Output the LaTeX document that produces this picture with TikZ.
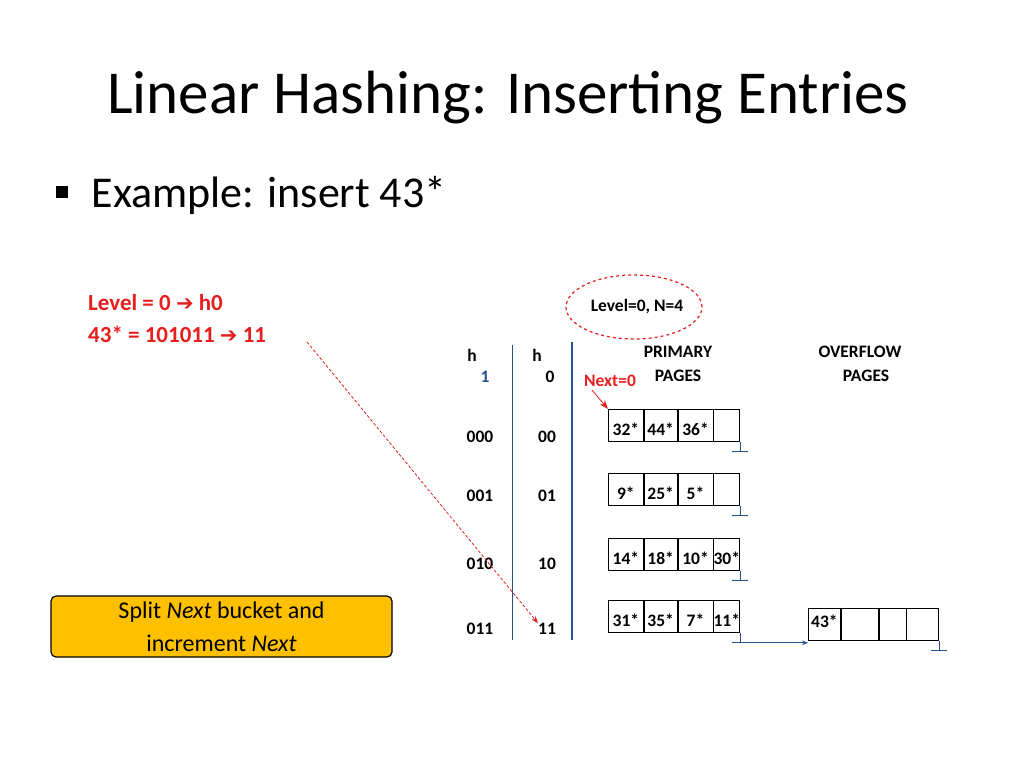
\documentclass[tikz,border=0pt]{standalone}
\usepackage{fontspec}
\setmainfont{Carlito}
\newfontfamily\symfont{DejaVu Sans}
\usetikzlibrary{arrows.meta, positioning}
\definecolor{hred}{RGB}{230,30,30}
\definecolor{hblue}{RGB}{40,80,140}
\definecolor{hyellow}{RGB}{255,192,0}
\tikzset{
  lbl/.style={font=\bfseries\fontsize{17.5}{19}\selectfont, inner sep=0pt},
  cell/.style={draw, thick, minimum width=#1, minimum height=32pt, inner sep=0pt, anchor=north west},
  gnd/.style={hblue, thick},
}
\begin{document}
\begin{tikzpicture}[x=1pt, y=-1pt]
  \useasboundingbox (0,0) rectangle (1024,768);
  \node[font=\fontsize{61}{66}\selectfont] (title) at (508,98) {Linear Hashing: Inserting Entries};
  \node[fill=black, minimum size=12pt, inner sep=0pt] (bul) at (62,192) {};
  \node[font=\fontsize{44}{48}\selectfont, anchor=west] (ex) at (88,195) {Example: insert 43*};

  % hashing of the new entry
  \node[lbl, hred, anchor=west, font=\bfseries\fontsize{23}{25}\selectfont] (lev) at (88,303) {Level = 0 {\symfont\fontsize{21}{24}\selectfont ➔} h0};
  \node[lbl, hred, anchor=west, font=\bfseries\fontsize{23}{25}\selectfont] (bits) at (88,334) {43* = 101011 {\symfont\fontsize{21}{24}\selectfont ➔} 11};

  \node[lbl] (ln) at (637,307) {Level=0, N=4};
  \draw[hred, very thick, dashed] (634,307) ellipse (68pt and 32pt);

  % directory
  \node[lbl] (h1) at (472,355) {h};
  \node[lbl, hblue] (h1s) at (485,377) {1};
  \node[lbl] (h0) at (537,355) {h};
  \node[lbl] (h0s) at (550,377) {0};
  \coordinate (sa) at (512,345); \coordinate (sb) at (512,640);
  \coordinate (ta) at (572,342); \coordinate (tb) at (572,640);
  \draw[hblue, thick] (sa) -- (sb);
  \draw[hblue, line width=2.5pt] (ta) -- (tb);
  \foreach \a/\b/\y [count=\i] in {000/00/437, 001/01/496, 010/10/564, 011/11/629}{
    \node[lbl] (d1-\i) at (480,\y) {\a};
    \node[lbl] (d0-\i) at (547,\y) {\b};
  }
  \node[lbl] (pp1) at (678,352) {PRIMARY};
  \node[lbl] (pp2) at (678,376) {PAGES};
  \node[lbl] (op1) at (860,352) {OVERFLOW};
  \node[lbl] (op2) at (866,376) {PAGES};
  \node[lbl, hred] (next) at (610,381) {Next=0};

  % primary buckets
  \foreach \y/\ea/\eb/\ec/\ed [count=\r] in {409/32*/44*/36*/, 473/9*/25*/5*/, 538/14*/18*/10*/30*, 600/31*/35*/7*/11*}{
    \node[cell=35pt] (b\r-1) at (608,\y) {};
    \node[cell=33pt, right=0pt of b\r-1.north east, anchor=north west] (b\r-2) {};
    \node[cell=35pt, right=0pt of b\r-2.north east, anchor=north west] (b\r-3) {};
    \node[cell=26pt, right=0pt of b\r-3.north east, anchor=north west] (b\r-4) {};
    \node[lbl] at ([yshift=-4pt]b\r-1.center) {\ea};
    \node[lbl] at ([yshift=-4pt]b\r-2.center) {\eb};
    \node[lbl] at ([yshift=-4pt]b\r-3.center) {\ec};
    \node[lbl] at ([yshift=-4pt]b\r-4.center) {\ed};
    \draw[gnd] (b\r-4.south east) -- ++(0,10) coordinate (g\r);
    \draw[gnd] ([xshift=-8pt]g\r) -- ([xshift=8pt]g\r);
  }

  % overflow page
  \node[cell=32pt] (o-1) at (808,608) {};
  \node[cell=37pt, right=0pt of o-1.north east, anchor=north west] (o-2) {};
  \node[cell=27pt, right=0pt of o-2.north east, anchor=north west] (o-3) {};
  \node[cell=32pt, right=0pt of o-3.north east, anchor=north west] (o-4) {};
  \node[lbl] (e43) at ([yshift=3pt]o-1.center) {43*};
  \draw[gnd] (o-4.south east) -- ++(0,10) coordinate (go);
  \draw[gnd] ([xshift=-8pt]go) -- ([xshift=8pt]go);
  \draw[hblue, thick, -{Stealth[length=6pt]}] (g4) -- (o-1.south west |- g4);

  % pointers
  \draw[hred, thick, -{Stealth[length=9pt]}] (next.south west) ++(8,3) -- (b1-1.north west);
  \coordinate (from) at (307,342);
  \draw[hred, densely dashed, thick, -{Stealth[length=7pt]}] (from) -- (d0-4.north west);

  \node[draw, very thick, rounded corners=5pt, fill=hyellow, minimum width=341pt, minimum height=61pt,
        align=center, font=\fontsize{24}{33}\selectfont] (split) at (221.5,626.5)
        {Split \textit{Next} bucket and\\ increment \textit{Next}};
\end{tikzpicture}
\end{document}
